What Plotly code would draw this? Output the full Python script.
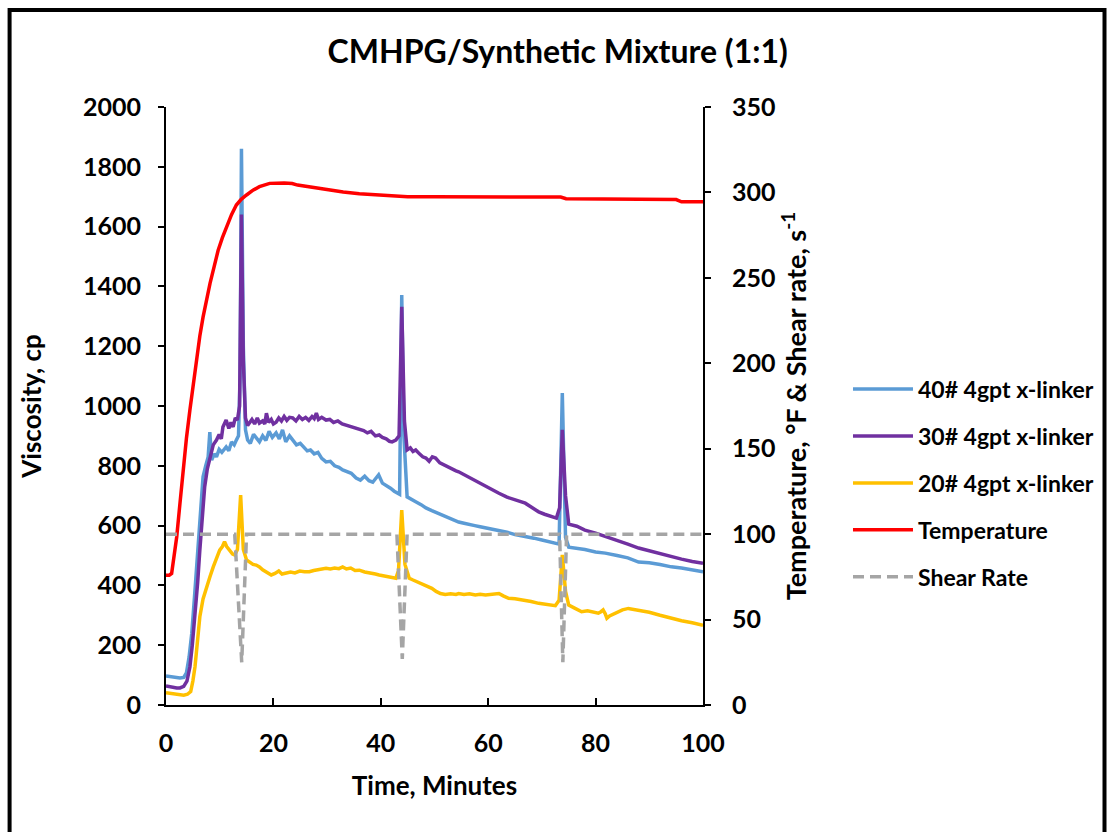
import plotly.graph_objects as go

title_text = "CMHPG/Synthetic Mixture (1:1)"
x_title = "Time, Minutes"
y_title = "Viscosity, cp"
y2_title = "Temperature, °F & Shear rate, s<sup>-1</sup>"
names = ["40# 4gpt x-linker", "30# 4gpt x-linker", "20# 4gpt x-linker", "Temperature", "Shear Rate"]

visc40 = [(0,97),(1,94),(2,91),(2.6,90),(3.3,92),(3.8,107),(4.3,160),(4.8,240),(5.3,360),(5.7,462),(6.3,629),(6.9,763),
          (7.4,800),(7.85,830),(8.16,913),(8.5,819),(9.0,840),(9.4,830),(9.9,855),(10.4,845),(11.2,863),(11.7,850),(12.2,880),
          (12.7,870),(13.1,886),(13.5,900),(13.8,1100),(14.05,1860),(14.4,1200),(14.8,920),(15.2,886),(15.7,875),(16.3,905),
          (16.9,893),(17.4,880),(18.0,900),(18.6,885),(19.2,915),(19.8,895),(20.5,910),(21.1,890),(21.7,920),(22.3,880),
          (23.0,900),(23.6,886),(24.3,870),(25.0,875),(25.7,860),(26.3,850),(26.9,853),(27.6,840),(28.3,845),(29.0,825),
          (29.8,813),(30.6,815),(31.4,800),(32.2,795),(32.9,786),(33.7,780),(34.5,775),(35.4,759),(36.2,752),(37.0,765),
          (37.8,750),(38.5,745),(39.1,759),(39.6,770),(40.3,742),(41.0,735),(41.8,725),(42.5,715),(43.0,709),(43.5,705),
          (43.9,1371),(44.3,900),(44.9,696),(45.6,690),(46.5,680),(47.5,670),(48.4,659),(49.5,650),(50.5,642),(51.5,635),
          (52.5,628),(53.5,620),(54.5,612),(55.5,608),(56.5,605),(57.5,600),(58.5,596),(59.5,592),(60.7,590),(62,585),
          (63.5,578),(65,570),(66.9,562),(68.5,558),(70,552),(71.5,546),(72.5,542),(73.2,538),(73.8,1043),(74.4,560),
          (75,528),(76.5,525),(78,520),(80,512),(81.8,508),(84,500),(86,492),(88,478),(90,476),(92,470),(94.1,462),
          (96,458),(98,452),(99.7,448),(100,446)]

visc30 = [(0,64),(1,60),(2,57),(2.6,57),(3.3,62),(3.9,80),(4.45,127),(4.9,200),(5.4,294),(5.9,410),(6.3,518),(6.8,640),
          (7.2,729),(7.7,790),(8.2,830),(8.8,870),(9.4,886),(9.9,905),(10.3,890),(10.6,930),(11.2,953),(11.7,925),(12.1,945),
          (12.5,930),(12.9,960),(13.3,953),(13.7,1000),(14.05,1640),(14.4,1150),(14.8,960),(15.2,935),(15.6,943),(16.0,955),
          (16.5,940),(17.0,960),(17.4,943),(18.0,950),(18.4,940),(18.7,976),(19.1,945),(19.6,955),(20.0,940),(20.5,946),
          (21.0,960),(21.5,950),(22.0,965),(22.5,952),(23.0,962),(23.6,960),(24.2,950),(24.8,965),(25.4,955),(26.0,962),
          (26.6,952),(27.2,965),(27.6,958),(28.0,976),(28.4,955),(29.0,962),(29.8,953),(30.5,955),(31.2,945),(32.0,950),
          (32.8,940),(33.5,936),(34.2,930),(35.0,928),(36.0,920),(36.8,918),(37.5,910),(38.2,915),(39.0,900),(39.7,903),
          (40.3,895),(41.0,890),(41.6,882),(42.1,880),(42.8,886),(43.4,900),(43.9,1332),(44.4,950),(44.9,853),(45.5,860),
          (46.0,848),(46.5,853),(47.2,840),(47.8,830),(48.4,826),(49.0,815),(49.6,830),(50.2,826),(51.0,810),(52.0,800),
          (53.0,790),(54.0,783),(54.5,780),(55.5,770),(56.5,762),(57.6,752),(58.5,742),(59.5,730),(60.7,719),(62.0,708),
          (63.5,695),(65.0,685),(66.9,675),(68.0,662),(69.4,646),(70.5,638),(71.5,632),(72.7,625),(73.3,660),(73.8,920),
          (74.4,700),(75.0,605),(76.5,598),(78.0,585),(80.0,575),(81.8,563),(84.0,550),(86.0,538),(88.0,525),(90.0,515),
          (92.0,505),(94.1,496),(96.0,488),(98.0,480),(99.7,476),(100,474)]

visc20 = [(0,41),(1,38),(2,34),(2.6,33),(3.3,33),(4.0,36),(4.6,45),(5.0,80),(5.4,128),(5.9,220),(6.3,295),(6.9,355),
          (7.55,396),(8.2,430),(8.8,462),(9.4,490),(10.0,518),(10.5,530),(10.9,546),(11.3,530),(11.9,518),(12.4,505),
          (12.8,502),(13.3,520),(13.9,702),(14.4,520),(15.0,485),(15.5,480),(16.2,470),(16.8,468),(17.4,462),(18.0,452),
          (18.8,445),(19.6,435),(20.3,440),(21.0,448),(21.6,438),(22.3,442),(23.2,445),(24.0,442),(24.9,448),(25.8,446),
          (26.7,446),(27.5,450),(28.3,452),(29.0,455),(29.8,457),(30.6,455),(31.4,458),(32.2,456),(32.9,462),(33.6,455),
          (34.4,458),(35.2,450),(36.0,451),(37.0,445),(38.0,440),(39.0,438),(39.7,435),(40.5,432),(41.5,428),(42.3,426),
          (42.8,424),(43.3,450),(43.9,652),(44.5,470),(45.3,424),(46.0,418),(47.0,410),(48.4,401),(49.5,390),(50.3,380),
          (51.1,373),(52.0,370),(53.0,372),(54.0,370),(54.5,373),(55.5,370),(56.5,372),(57.6,368),(58.5,370),(59.5,368),
          (60.5,370),(61.3,372),(62.0,373),(62.8,365),(63.8,357),(65.0,355),(66.0,352),(66.9,351),(68.0,346),(69.4,340),
          (70.5,338),(71.5,334),(72.5,332),(73.2,350),(73.8,502),(74.4,380),(75.0,334),(76.0,325),(77.4,312),(78.5,315),
          (79.5,310),(80.5,307),(81.0,312),(81.4,318),(81.8,305),(82.1,290),(82.6,298),(83.4,305),(84.2,312),(85.0,318),
          (86.1,323),(87.0,320),(88.0,318),(90.0,310),(92.0,300),(94.1,290),(96.0,282),(98.0,275),(99.7,268),(100,267)]

temperature = [(0,76),(0.6,76),(1.05,77),(1.5,86),(2.0,98.5),(2.6,118),(3.2,137.5),(3.8,156),(4.45,172.7),(5.1,189),
               (5.7,204),(6.3,216),(6.9,227),(7.5,237),(8.2,246.8),(9.0,257),(9.7,266),(10.5,273.5),(11.25,280),
               (12.2,287),(13.1,292.6),(14.0,296),(15.0,298.5),(16.2,301.3),(17.4,303.4),(18.4,304.6),(19.3,305.3),
               (22,305.5),(23.5,305.2),(24.5,304.3),(27,303),(30,301.5),(33,300.2),(36,299.2),(40,298.5),(43,298),
               (45,297.5),(50,297.5),(60,297.5),(70,297.5),(73.5,297.3),(74.5,296.3),(80,296.2),(90,296),(95,295.8),
               (96,294.5),(100,294.5)]

shear = [(0,100),(12.8,100),(14.1,25),(15.0,100),(43.0,100),(44.0,27),(44.9,100),(73.3,100),(73.9,25),(74.6,100),(100,100)]

colors = ["#5B9BD5", "#7030A0", "#FFC000", "#FF0000", "#A5A5A5"]

FONT = "Lato"
fig = go.Figure()

for i, (pts, col) in enumerate([(visc40, colors[0]), (visc30, colors[1]), (visc20, colors[2])]):
    t, v = zip(*pts)
    fig.add_trace(go.Scatter(x=list(t), y=list(v), name=names[i], legendgroup=f"g{i}", mode="lines",
                             line=dict(color=col, width=3.5), yaxis="y"))

t, v = zip(*temperature)
fig.add_trace(go.Scatter(x=list(t), y=list(v), name=names[3], legendgroup="g3", mode="lines",
                         line=dict(color=colors[3], width=3.5), yaxis="y2"))
t, v = zip(*shear)
fig.add_trace(go.Scatter(x=list(t), y=list(v), name=names[4], legendgroup="g4", mode="lines",
                         line=dict(color=colors[4], width=3.5, dash="11px,6px"), yaxis="y2"))

fig.update_layout(
    width=1111, height=832,
    margin=dict(l=166, r=406, t=107, b=127),
    paper_bgcolor="white", plot_bgcolor="white",
    font=dict(family=FONT, color="black", size=24, weight="bold"),
    title=dict(text=title_text, x=0.502, xanchor="center", y=1 - 52 / 832, yanchor="middle",
               font=dict(family=FONT, size=32, color="black", weight="bold")),
    xaxis=dict(range=[0, 100], tickvals=[0, 20, 40, 60, 80, 100], ticks="inside", ticklen=7,
               tickwidth=1.5, tickcolor="black", showline=True, linecolor="black", linewidth=2,
               showgrid=False, zeroline=False, ticklabelstandoff=15,
               tickfont=dict(family=FONT, size=25, weight="bold"),
               title=dict(text=x_title, standoff=21, font=dict(family=FONT, size=26, weight="bold"))),
    yaxis=dict(range=[0, 2000], tickvals=list(range(0, 2001, 200)), ticks="outside", ticklen=6,
               tickwidth=1.5, tickcolor="black", showline=True, linecolor="black", linewidth=2,
               showgrid=False, zeroline=False, ticklabelstandoff=12,
               tickfont=dict(family=FONT, size=25, weight="bold"),
               title=dict(text=y_title, standoff=34, font=dict(family=FONT, size=26, weight="bold"))),
    yaxis2=dict(range=[0, 350], tickvals=list(range(0, 351, 50)), ticks="outside", ticklen=6,
                tickwidth=1.5, tickcolor="black", showline=True, linecolor="black", linewidth=2,
                showgrid=False, zeroline=False, overlaying="y", side="right", ticklabelstandoff=16,
                tickfont=dict(family=FONT, size=25, weight="bold"),
                title=dict(text=y2_title, standoff=12, font=dict(family=FONT, size=27, weight="bold"))),
    legend=dict(x=1.27, xanchor="left", y=0.371, yanchor="middle", bgcolor="rgba(0,0,0,0)",
                font=dict(family=FONT, size=23, weight="bold"), tracegroupgap=14, itemwidth=60),
    showlegend=True,
)

fig.add_shape(type="rect", xref="paper", yref="paper",
              x0=(9 - 166) / 539, x1=(1108 - 166) / 539, y0=-0.5, y1=(705 - 10) / 598,
              line=dict(color="black", width=4), fillcolor="rgba(0,0,0,0)", layer="above")

fig.write_html("out.html")
